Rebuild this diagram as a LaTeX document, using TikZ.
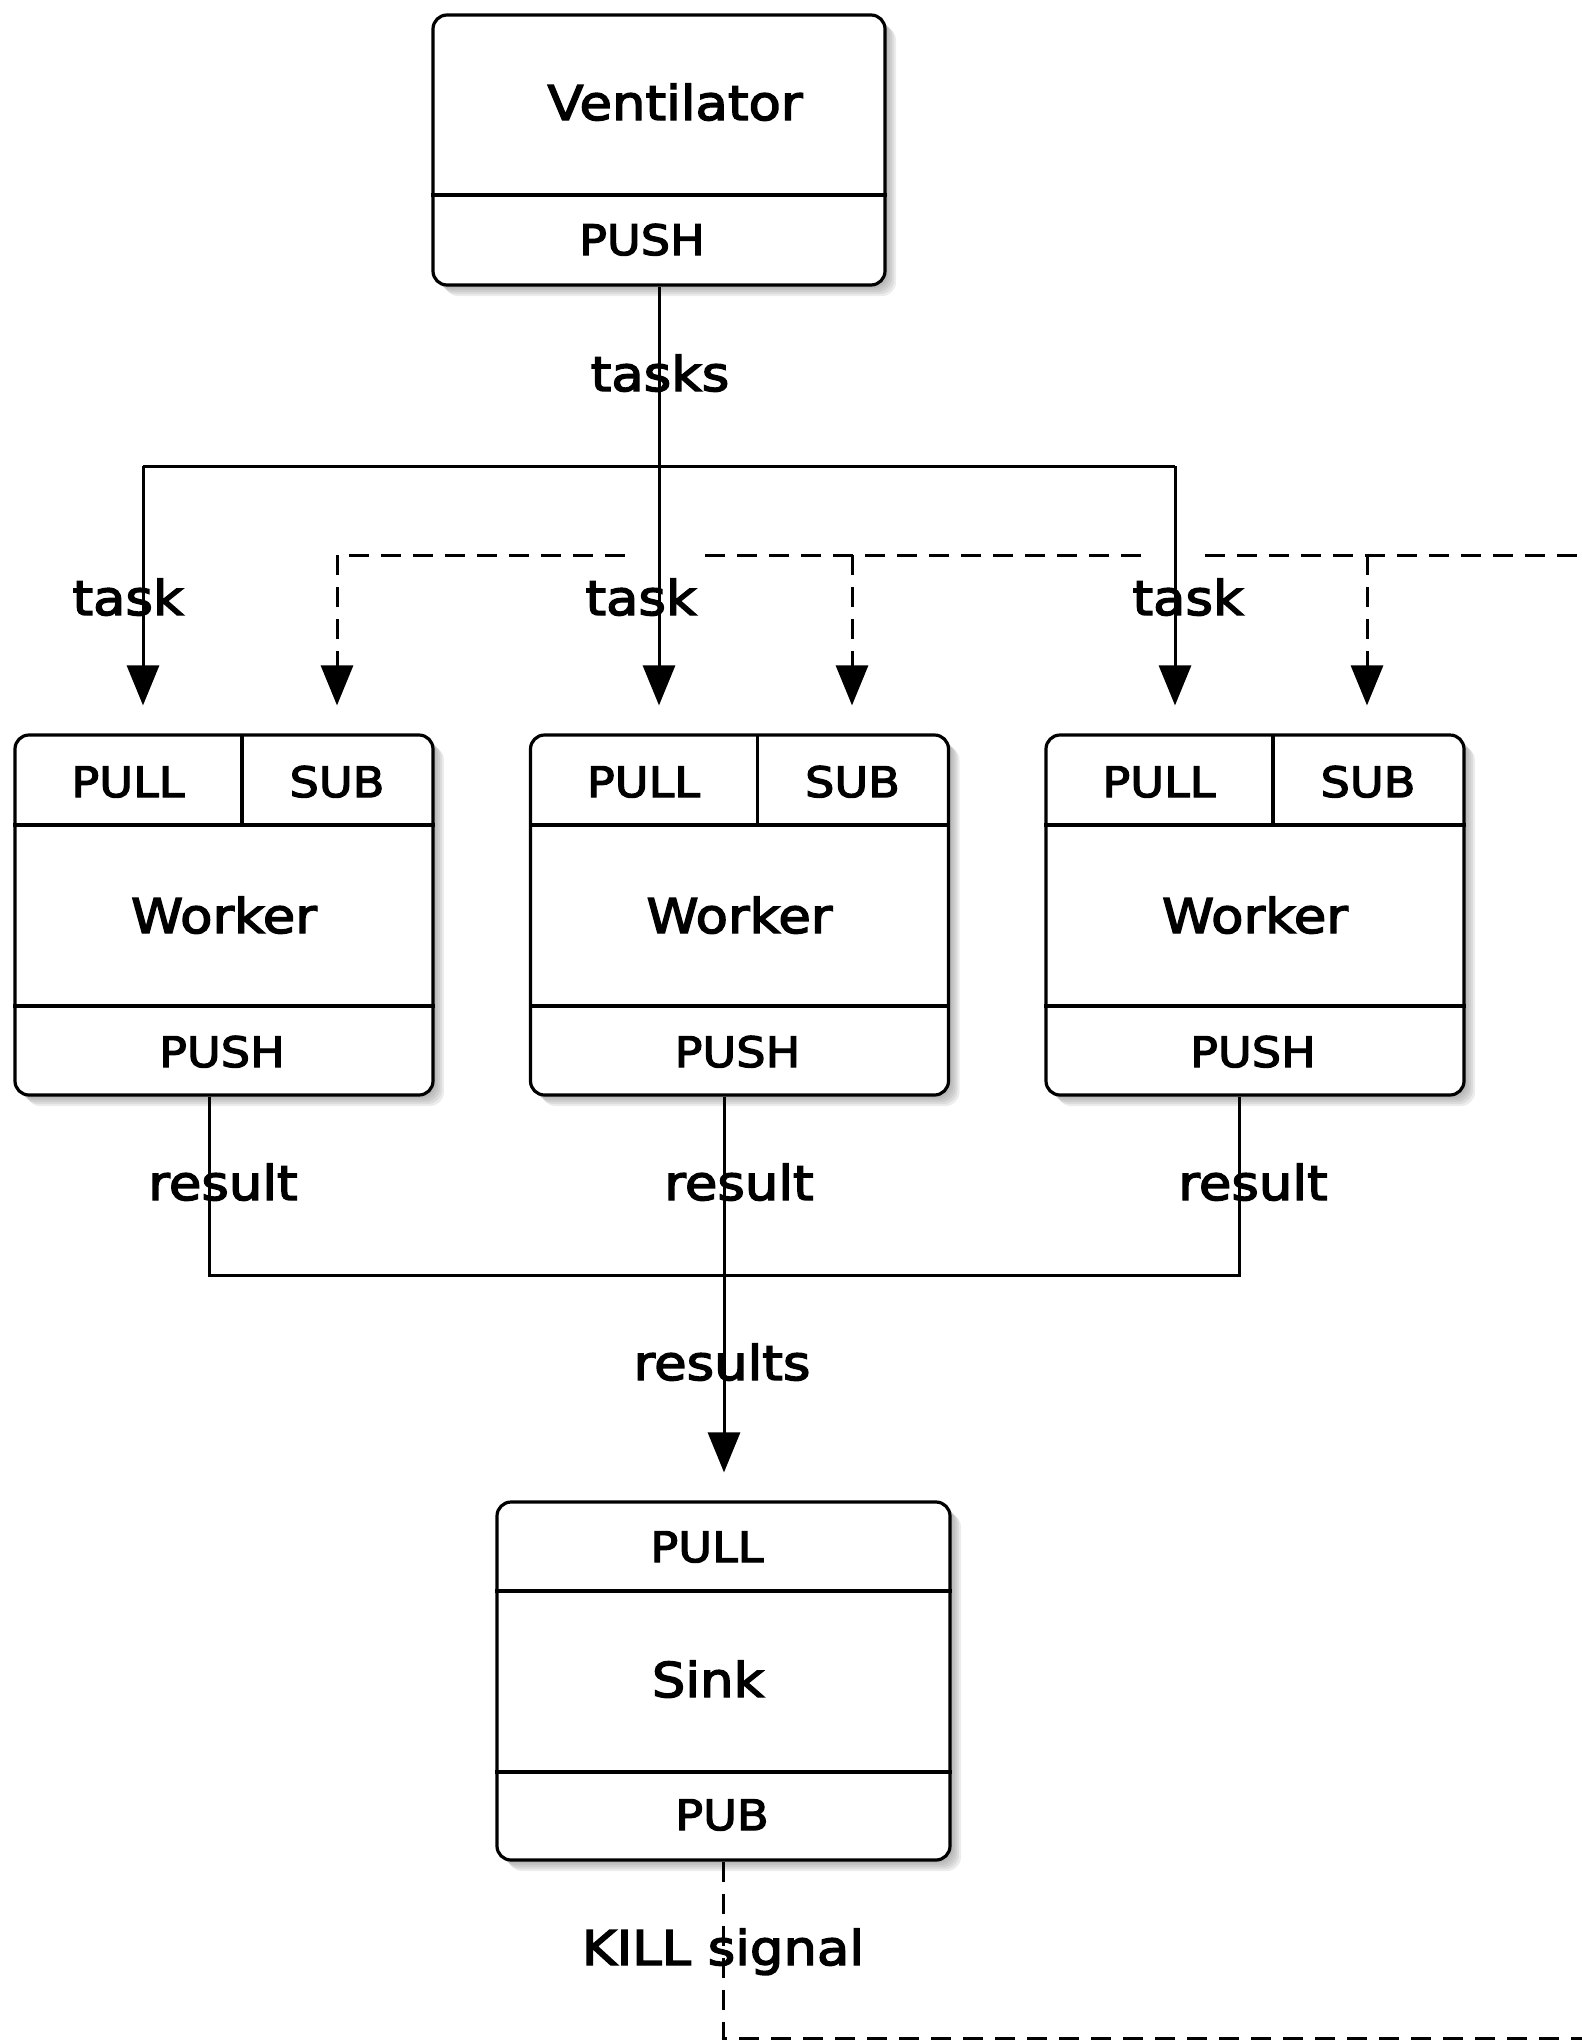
\documentclass[tikz,border=0pt]{standalone}
\usepackage{fontspec}
\setmainfont[FakeStretch=1.1,FakeBold=3]{DejaVu Sans}
\usetikzlibrary{arrows.meta,shadows}
\begin{document}
\begin{tikzpicture}[x=0.5pt,y=-0.5pt,
  shd/.style={drop shadow={shadow xshift=#1, shadow yshift=-#1, opacity=0.15}},
  box/.style={draw, line width=1.6pt, rounded corners=7pt, fill=white, inner sep=0pt,
     shd=1.5pt, shd=2.5pt, shd=3.5pt, shd=4.5pt, shd=5.5pt},
  div/.style={line width=1.6pt},
  big/.style={font=\fontsize{24}{28}\selectfont, inner sep=0pt, anchor=base},
  small/.style={font=\fontsize{21}{25}\selectfont, inner sep=0pt, anchor=base},
  conn/.style={line width=1.5pt},
  arr/.style={-{Triangle[length=20pt,width=16pt]}, shorten >=14pt},
  dsh/.style={line width=1.5pt, dash pattern=on 10pt off 6pt},
]
\useasboundingbox (0,0) rectangle (1582,2040);

% Ventilator
\node[box, minimum width=226pt, minimum height=135pt] (v) at (659,150) {};
\draw[div] (v.west |- 0,195) -- (v.east |- 0,195);
\node[big] (vlab) at (675,120) {Ventilator};
\node[small] (vpush) at (642,255) {PUSH};

% Workers
\foreach \n/\cx in {w1/224, w2/739.5, w3/1255} {
  \node[box, minimum width=209pt, minimum height=180pt] (\n) at (\cx,915) {};
  \draw[div] (\n.west |- 0,825) -- (\n.east |- 0,825);
  \draw[div] (\n.west |- 0,1006) -- (\n.east |- 0,1006);
  \draw[div] (\cx+18,735) -- (\cx+18,825);
  \node[small] (\n pull) at (\cx-96,797) {PULL};
  \node[small] (\n sub) at (\cx+113,797) {SUB};
  \node[big] (\n lab) at (\cx,933) {Worker};
  \node[small] (\n push) at (\cx-2,1067) {PUSH};
}

% Sink
\node[box, minimum width=226.5pt, minimum height=179pt] (s) at (723.5,1681) {};
\draw[div] (s.west |- 0,1591) -- (s.east |- 0,1591);
\draw[div] (s.west |- 0,1772) -- (s.east |- 0,1772);
\node[small] (spull) at (707,1562) {PULL};
\node[big] (slab) at (708,1697) {Sink};
\node[small] (spub) at (722,1830) {PUB};

% tasks fan-out
\coordinate (t1) at (143,466);
\coordinate (t2) at (659,466);
\coordinate (t3) at (1175,466);
\draw[conn] (v.south) -- (t2);
\draw[conn] (t1) -- (t3);
\draw[conn,arr] (t1) -- (t1 |- w1.north);
\draw[conn,arr] (t2) -- (t2 |- w2.north);
\draw[conn,arr] (t3) -- (t3 |- w3.north);

% dashed control line
\coordinate (ga) at (625,555);
\coordinate (gb) at (705,555);
\coordinate (gc) at (1142,555);
\coordinate (gd) at (1205,555);
\coordinate (dR) at (1582,555);
\coordinate (d1) at (337,555);
\coordinate (d2) at (852,555);
\coordinate (d3) at (1367,555);
\draw[dsh,arr] (ga) -- (d1) -- (d1 |- w1.north);
\draw[dsh] (gb) -- (gc);
\draw[dsh] (gd) -- (dR);
\draw[dsh,arr] (d2) -- (d2 |- w2.north);
\draw[dsh,arr] (d3) -- (d3 |- w3.north);

% results fan-in
\coordinate (r1) at (209,1275);
\coordinate (r2) at (724,1275);
\coordinate (r3) at (1239,1275);
\draw[conn] (r1 |- w1.south) -- (r1) -- (r3) -- (r3 |- w3.south);
\draw[conn,arr] (r2 |- w2.south) -- (r2 |- s.north);

% kill signal
\coordinate (kend) at (1582,2038);
\draw[dsh] (s.south) |- (kend);

% edge labels
\node[big] (ltasks) at (660,391) {tasks};
\node[big] (ltask1) at (128,615) {task};
\node[big] (ltask2) at (641,615) {task};
\node[big] (ltask3) at (1188,615) {task};
\node[big] (lres1) at (223,1200) {result};
\node[big] (lres2) at (739,1200) {result};
\node[big] (lres3) at (1253,1200) {result};
\node[big] (lresults) at (722,1380) {results};
\node[big] (lkill) at (723,1965) {KILL signal};
\end{tikzpicture}
\end{document}
